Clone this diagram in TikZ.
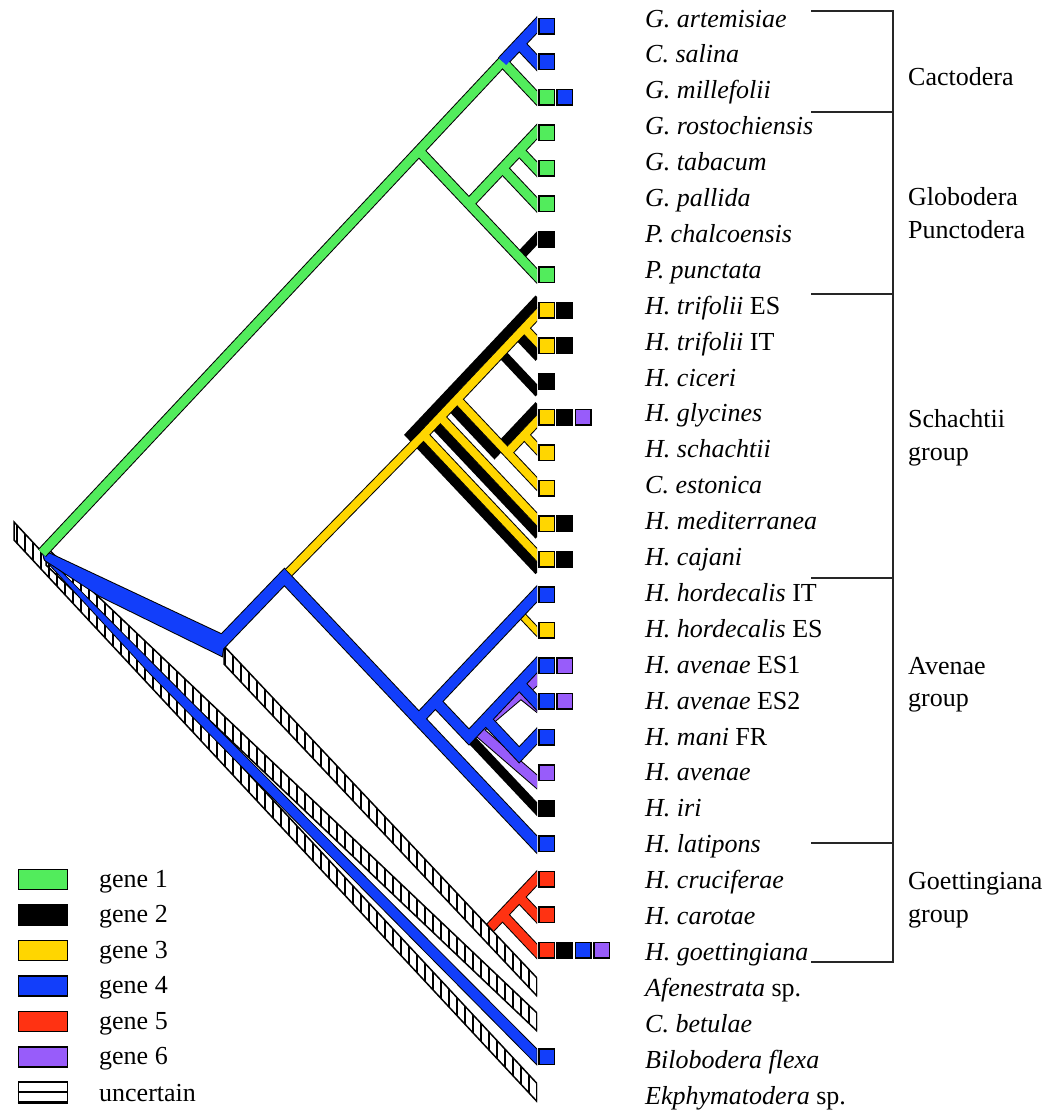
\documentclass[tikz,border=0pt]{standalone}
\usepackage{fontspec}
\setmainfont{Liberation Serif}
\usetikzlibrary{calc}
\definecolor{gOne}{RGB}{82,236,92}
\definecolor{gThree}{RGB}{255,214,0}
\definecolor{gFour}{RGB}{18,62,250}
\definecolor{gFive}{RGB}{255,50,18}
\definecolor{gSix}{RGB}{152,92,250}

\newcommand\hatchstrip[2]{%
  \begin{scope}
    \clip ($(#1)+(0,-9)$) -- ($(#2)+(0,-9)$) -- ($(#2)+(0,9)$) -- ($(#1)+(0,9)$) -- cycle;
    \fill[white] (0,0) rectangle (1052,1114);
    \foreach \k in {0,...,68} {\draw[line width=1.4pt] ({8*\k+1},0) -- ({8*\k+1},1114);}
  \end{scope}
  \draw[line width=1.5pt] ($(#1)+(0,-9)$) -- ($(#2)+(0,-9)$) -- ($(#2)+(0,9)$) -- ($(#1)+(0,9)$) -- cycle;
}
\newcommand\GreenSet[1]{%
  \draw[#1] (R) -- (S);
  \draw[#1,ext] (S) -- (t2);
  \draw[#1,ext] (Q) -- (t7);
  \draw[#1,ext] (U) -- (t3);
  \draw[#1,ext] (W) -- (t4);
  \draw[#1,ext] (V) -- (t5);}
\newcommand\CactSet[1]{%
  \draw[#1,ext] (S) -- (t0);
  \draw[#1,ext] (T) -- (t1);}
\newcommand\RedSet[1]{%
  \draw[#1,ext] (Z) -- (t24);
  \draw[#1,ext] (K) -- (t26);
  \draw[#1,ext] (KK) -- (t25);}
\newcommand\PurpleSet[1]{%
  \draw[#1,extb] (pt18) -- (Np) -- (pt21);
  \draw[#1,ext] (Op) -- (pt19);}
\newcommand\BlueSet[3]{%
  \draw[#1,line width=#2pt,ext] (Y0) -- (H) -- (t23);
  \draw[#1,line width=#3pt,ext] (J) -- (t16);
  \draw[#1,line width=#3pt,ext] (I) -- (M) -- (t18);
  \draw[#1,line width=#3pt,ext] (O) -- (t19);
  \draw[#1,line width=#3pt,ext] (N) -- (P) -- (t20);}
\newcommand\BlackSch{%
  \draw[black,line width=9.5pt,extb] (bt8) -- (bG) -- (bt15);
  \draw[black,line width=9.5pt,ext] (bA) -- (bt9);
  \draw[black,line width=9.5pt,ext] (bB) -- (bt10);
  \draw[black,line width=9.5pt,ext] (bE) -- (bDp) -- (bt11);
  \draw[black,line width=9.5pt,ext] (bF) -- (bt14);}
\newcommand\YellowSch[1]{%
  \draw[#1,ext] (Hs) -- (yG) -- (yt8);
  \draw[#1,ext] (yG) -- (yt15);
  \draw[#1,ext] (yA) -- (yt9);
  \draw[#1,ext] (yE) -- (yt13);
  \draw[#1,ext] (yDp) -- (yt11);
  \draw[#1,ext] (yC) -- (yt12);
  \draw[#1,ext] (yF) -- (yt14);}

\begin{document}
\begin{tikzpicture}[x=1pt,y=-1pt,
  lab/.style={anchor=base west,inner sep=0pt,font=\fontsize{26}{30}\selectfont},
  sqr/.style={draw=black,line width=1.5pt,minimum size=15.5pt,inner sep=0pt},
  ext/.style={shorten >=-16pt},
  extb/.style={shorten <=-16pt,shorten >=-16pt},
  bkt/.style={line width=1.7pt,black!85},
  legbox/.style={draw=black,line width=1.8pt,minimum width=49pt,minimum height=20pt,inner sep=0pt}]
\useasboundingbox (0,0) rectangle (1052,1114);

% ---------- coordinates ----------
\foreach \i in {0,...,30} \coordinate (t\i) at (536,{26+35.55*\i});
\coordinate (R) at (42,553);
\coordinate (Q) at (418.6,150.4);
\coordinate (S) at (502.5,61.55);
\coordinate (T) at (519.2,43.8);
\coordinate (U) at (469,203.75);
\coordinate (V) at (502.5,168.2);
\coordinate (W) at (519.2,150.4);
\coordinate (X) at (519.2,257.1);
\coordinate (Y) at (218,646);
\coordinate (H) at (284.4,577);
\coordinate (G) at (418.6,434.8);
\coordinate (F) at (435.4,417.05);
\coordinate (E) at (452.2,399.3);
\coordinate (B) at (502.5,345.95);
\coordinate (A) at (519.2,328.2);
\coordinate (Dp) at (502.5,452.6);
\coordinate (C) at (519.2,434.8);
\coordinate (J) at (418.6,719.2);
\coordinate (I) at (435.4,701.45);
\coordinate (L) at (519.2,612.6);
\coordinate (M) at (469,737);
\coordinate (N) at (485.7,719.2);
\coordinate (O) at (519.2,683.7);
\coordinate (P) at (519.2,754.8);
\coordinate (Z) at (485.7,932.5);
\coordinate (K) at (502.5,914.75);
\coordinate (KK) at (519.2,897);
\coordinate (Np) at (477,730);
\coordinate (Op) at (521,693);
\coordinate (pt18) at (536,680);
\coordinate (pt19) at (536,705);
\coordinate (pt21) at (536,781);
\foreach \n in {G,F,E,B,A,Dp,C,t8,t9,t10,t11,t12,t13,t14,t15} {
  \coordinate (b\n) at ($(\n)+(-8,0)$);
  \coordinate (y\n) at ($(\n)+(5,0)$);}
\coordinate (Hs) at ($(H)!6.5pt!(yG)$);
\coordinate (Y0) at ($(Y)!-6pt!(H)$);
\coordinate (w1) at (42,550);
\coordinate (w2) at (225,636);
\coordinate (w3) at (222,656);
\coordinate (w4) at (100,596);
\coordinate (w5) at (45,560);
\coordinate (bb1) at (43,553);
\coordinate (bb2) at (537,1049);
\coordinate (bb3) at (537,1065);
\coordinate (bb4) at (150,674);
\coordinate (bb5) at (44,559);
\coordinate (hE1) at (14,531);
\coordinate (hE2) at (537,1092.5);
\coordinate (hC1) at (46,556);
\coordinate (hC2) at (537,1022);
\coordinate (hA1) at (224,655);
\coordinate (hA2) at (537,987);

% ---------- tree ----------
\begin{scope}
\clip (0,0) rectangle (537,1114);
\hatchstrip{hE1}{hE2}
\hatchstrip{hC1}{hC2}
\RedSet{black,line width=11pt}
\RedSet{gFive,line width=9pt}
\hatchstrip{hA1}{hA2}
\filldraw[fill=gFour,draw=black,line width=0.8pt] (bb1) -- (bb2) -- (bb3) -- (bb4) -- (bb5) -- cycle;
\draw[black,line width=2pt] (w1) -- (w2) -- (w3) -- (w4) -- (w5) -- cycle;
\PurpleSet{black,line width=11.5pt}
\PurpleSet{gSix,line width=9.5pt}
\draw[black,line width=9.5pt,ext] (M) -- (t22);
\draw[black,line width=8pt,ext] (L) -- (t17);
\draw[gThree,line width=6pt,ext] (L) -- (t17);
\BlueSet{black}{13}{12}
\BlueSet{gFour}{11}{10}
\fill[gFour] (w1) -- (w2) -- (w3) -- (w4) -- (w5) -- cycle;
\GreenSet{black,line width=11pt}
\draw[black,line width=9.5pt,ext] (X) -- (t6);
\CactSet{black,line width=12pt}
\GreenSet{gOne,line width=9pt}
\CactSet{gFour,line width=10pt}
\BlackSch
\YellowSch{black,line width=10pt}
\YellowSch{gThree,line width=8pt}
\end{scope}

% ---------- squares ----------
\foreach \r/\cols in {0/{gFour},1/{gFour},2/{gOne,gFour},3/{gOne},4/{gOne},5/{gOne},6/{black},7/{gOne},
  8/{gThree,black},9/{gThree,black},10/{black},11/{gThree,black,gSix},12/{gThree},13/{gThree},
  14/{gThree,black},15/{gThree,black},16/{gFour},17/{gThree},18/{gFour,gSix},19/{gFour,gSix},
  20/{gFour},21/{gSix},22/{black},23/{gFour},24/{gFive},25/{gFive},26/{gFive,black,gFour,gSix},29/{gFour}}
  {\foreach \c [count=\k from 0] in \cols
    {\node[sqr,fill=\c] (sq\r-\k) at ({546.5+18.4*\k},{26+35.55*\r}) {};}}

% ---------- labels ----------
\foreach \r/\txt in {
0/{\textit{G. artemisiae}},
1/{\textit{C. salina}},
2/{\textit{G. millefolii}},
3/{\textit{G. rostochiensis}},
4/{\textit{G. tabacum}},
5/{\textit{G. pallida}},
6/{\textit{P. chalcoensis}},
7/{\textit{P. punctata}},
8/{\textit{H. trifolii} ES},
9/{\textit{H. trifolii} IT},
10/{\textit{H. ciceri}},
11/{\textit{H. glycines}},
12/{\textit{H. schachtii}},
13/{\textit{C. estonica}},
14/{\textit{H. mediterranea}},
15/{\textit{H. cajani}},
16/{\textit{H. hordecalis} IT},
17/{\textit{H. hordecalis} ES},
18/{\textit{H. avenae} ES1},
19/{\textit{H. avenae} ES2},
20/{\textit{H. mani} FR},
21/{\textit{H. avenae}},
22/{\textit{H. iri}},
23/{\textit{H. latipons}},
24/{\textit{H. cruciferae}},
25/{\textit{H. carotae}},
26/{\textit{H. goettingiana}},
27/{\textit{Afenestrata} sp.},
28/{\textit{C. betulae}},
29/{\textit{Bilobodera flexa}},
30/{\textit{Ekphymatodera} sp.}}
  {\node[lab] (lab\r) at (645,{27+35.9*\r}) {\txt};}

% ---------- brackets ----------
\coordinate (bh0) at (811,11);  \coordinate (bv0) at (893,11);
\coordinate (bh1) at (811,112); \coordinate (bv1) at (893,112);
\coordinate (bh2) at (811,294); \coordinate (bv2) at (893,294);
\coordinate (bh3) at (811,578); \coordinate (bv3) at (893,578);
\coordinate (bh4) at (811,843); \coordinate (bv4) at (893,843);
\coordinate (bh5) at (811,962); \coordinate (bv5) at (893,962);
\draw[bkt] (bh0) -- (bv0) -- (bv5) -- (bh5);
\foreach \k in {1,...,4} \draw[bkt] (bh\k) -- (bv\k);

\node[lab] (gCact) at (908,85) {Cactodera};
\node[lab] (gGlob) at (908,205) {Globodera};
\node[lab] (gPunc) at (908,238) {Punctodera};
\node[lab] (gSch1) at (908,427) {Schachtii};
\node[lab] (gSch2) at (908,460) {group};
\node[lab] (gAve1) at (908,674) {Avenae};
\node[lab] (gAve2) at (908,706) {group};
\node[lab] (gGoe1) at (908,889) {Goettingiana};
\node[lab] (gGoe2) at (908,922) {group};

% ---------- legend ----------
\foreach \k/\c in {0/gOne,1/black,2/gThree,3/gFour,4/gFive,5/gSix}
  {\node[legbox,fill=\c] (lg\k) at (43,{879.5+35.5*\k}) {};
   \pgfmathtruncatemacro\gn{\k+1}
   \node[lab] (lt\k) at (99,{887+35.5*\k}) {gene \gn};}
\node[legbox,fill=white] (lg6) at (43,1092) {};
\draw[line width=1.5pt] (lg6.west) -- (lg6.east);
\draw[line width=2.8pt] (lg6.south west) -- (lg6.south east);
\node[lab] (lt6) at (99,1101) {uncertain};
\end{tikzpicture}
\end{document}
